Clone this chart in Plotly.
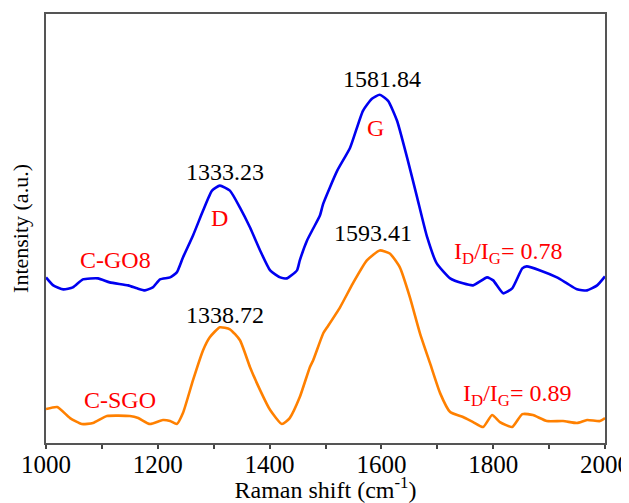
import plotly.graph_objects as go

# Raman shift (cm^-1) and intensity (a.u.)
go8_x = [1000, 1013, 1031, 1048, 1066, 1093, 1114, 1147, 1163, 1177, 1191, 1204, 1222, 1234,
         1245, 1263, 1281, 1297, 1311, 1329, 1347, 1365, 1383, 1401, 1419, 1431, 1449, 1454,
         1467, 1478, 1490, 1496, 1521, 1544, 1567, 1583, 1597, 1612, 1628, 1646, 1664, 1682,
         1699, 1723, 1746, 1764, 1789, 1800, 1818, 1834, 1852, 1860, 1884, 1914, 1932, 1950,
         1968, 1986, 2000]
go8_y = [166, 158, 154, 156, 164, 165, 161, 158, 155, 153, 156, 164, 166, 171,
         186, 208, 233, 253, 258, 253, 236, 216, 193, 173, 166, 165, 173, 183,
         203, 215, 228, 240, 273, 296, 333, 345, 349, 343, 323, 286, 246, 206,
         180, 165, 160, 158, 166, 163, 150, 155, 175, 177, 173, 166, 160, 154,
         153, 158, 167]

sgo_x = [1000, 1020, 1043, 1064, 1084, 1109, 1150, 1165, 1186, 1209, 1222, 1234, 1245, 1263,
         1281, 1293, 1311, 1329, 1347, 1365, 1383, 1401, 1422, 1436, 1454, 1472, 1478, 1496,
         1503, 1526, 1549, 1574, 1597, 1615, 1633, 1651, 1669, 1687, 1705, 1723, 1746, 1764,
         1782, 1798, 1812, 1834, 1852, 1871, 1896, 1925, 1950, 1968, 1991, 2000]
sgo_y = [34, 36, 25, 19, 20, 27, 27, 25, 19, 23, 22, 19, 30, 63,
         93, 106, 116, 114, 103, 76, 53, 33, 19, 25, 46, 76, 83, 110,
         116, 136, 160, 183, 193, 190, 176, 146, 110, 80, 50, 31, 26, 21,
         16, 28, 21, 16, 29, 28, 22, 22, 20, 23, 22, 25]

x_ticks = [1000, 1200, 1400, 1600, 1800, 2000]

peak_labels = ["1333.23", "1581.84", "1338.72", "1593.41"]
peak_x = [1320, 1601, 1320, 1585]
peak_y = [272, 365, 128, 210]

red_labels = ["D", "G", "C-GO8", "C-SGO",
              "I<sub>D</sub>/I<sub>G</sub>= 0.78", "I<sub>D</sub>/I<sub>G</sub>= 0.89"]
red_x = [1311, 1590, 1125, 1132, 1826, 1843]
red_y = [226, 316, 183, 43, 190, 48]

FONT = "Liberation Serif"

fig = go.Figure()
fig.add_trace(go.Scatter(x=go8_x, y=go8_y, mode="lines", name="C-GO8",
                         line=dict(color="#0000f0", width=2.6, shape="spline", smoothing=0.5)))
fig.add_trace(go.Scatter(x=sgo_x, y=sgo_y, mode="lines", name="C-SGO",
                         line=dict(color="#ff8000", width=2.6, shape="spline", smoothing=0.5)))

for t, x, y in zip(peak_labels, peak_x, peak_y):
    fig.add_annotation(x=x, y=y, text=t, showarrow=False,
                       font=dict(family=FONT, size=24, color="black"))
for t, x, y in zip(red_labels, red_x, red_y):
    fig.add_annotation(x=x, y=y, text=t, showarrow=False,
                       font=dict(family=FONT, size=24, color="#ff0000"))

fig.update_layout(
    width=621, height=495,
    margin=dict(l=38, r=24, t=5.5, b=60, autoexpand=False),
    paper_bgcolor="white", plot_bgcolor="white",
    showlegend=False,
    font=dict(family=FONT, size=24, color="black"),
    xaxis=dict(range=[1000, 2000], tickvals=x_ticks, ticks="outside", ticklen=4,
               tickwidth=1.5, tickcolor="#444", automargin=False,
               ticklabelstandoff=-6, ticklabeloverflow="allow",
               minor=dict(ticks="outside", ticklen=4, dtick=100, tickcolor="#444", tickwidth=1.5),
               showline=True, linecolor="#555", linewidth=1.5, mirror=True,
               showgrid=False, zeroline=False,
               tickfont=dict(family=FONT, size=25),
               title=dict(text="Raman shift (cm<sup>-1</sup>)", standoff=8,
                          font=dict(family=FONT, size=24))),
    yaxis=dict(range=[0, 430], showticklabels=False, ticks="", automargin=False,
               showline=True, linecolor="#555", linewidth=1.5, mirror=True,
               showgrid=False, zeroline=False,
               title=dict(text="Intensity (a.u.)", standoff=11,
                          font=dict(family=FONT, size=22))),
)

fig.write_html("out.html")
